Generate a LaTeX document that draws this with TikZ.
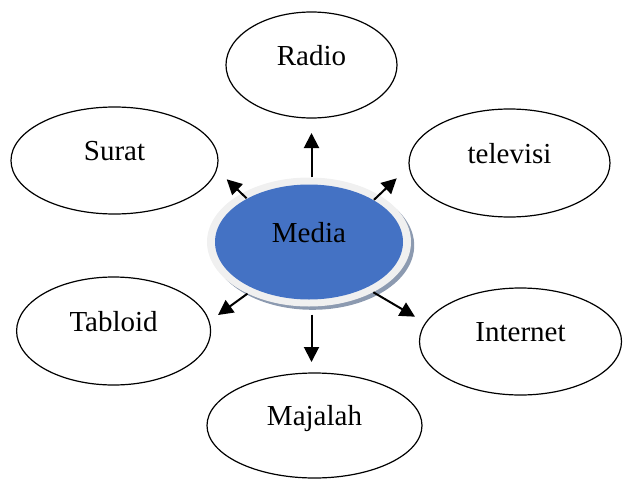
\documentclass[tikz,border=0pt]{standalone}
\usepackage{fontspec}
\setmainfont{Liberation Serif}
\usetikzlibrary{shapes.geometric,arrows.meta}
\definecolor{mediablue}{HTML}{4472C4}
\definecolor{ringgrey}{HTML}{F0F0F0}
\definecolor{shadowgrey}{HTML}{8C9AB0}

\begin{document}
\begin{tikzpicture}[x=1pt,y=-1pt,
		bubble/.style={ellipse,draw=black,line width=1.2pt,inner sep=0pt,text height=10pt,text depth=10pt,font=\fontsize{29}{32}\selectfont},
		hub/.style={bubble,draw=none,fill=mediablue,minimum width=188pt,minimum height=115pt},
		ring/.style={ellipse,fill=ringgrey,inner sep=0pt,minimum width=204pt,minimum height=129pt},
		arr/.style={-{Triangle[length=15pt,width=15pt]},line width=2pt}]
		\useasboundingbox (0,0) rectangle (623,479);

		% centre with ring and shadow
		\fill[shadowgrey] (312.5,245.5) ellipse (101.7pt and 64.3pt);
		\node[ring] (mediaring) at (309,242) {};
		\node[hub] (media) at (309,242) {Media};

		\node[bubble,minimum width=171pt,minimum height=106pt] (radio) at (311.5,65) {Radio};
		\node[bubble,minimum width=207pt,minimum height=107pt] (surat) at (114.5,160.5) {Surat};
		\node[bubble,minimum width=201pt,minimum height=108pt] (televisi) at (509.5,163) {televisi};
		\node[bubble,minimum width=194pt,minimum height=108pt] (tabloid) at (113.6,331) {Tabloid};
		\node[bubble,minimum width=202pt,minimum height=107pt] (internet) at (520.5,341.5) {Internet};
		\node[bubble,minimum width=215pt,minimum height=105pt] (majalah) at (314.5,425.5) {Majalah};

		% arrow tips
		\coordinate (toradio) at (311.5,133);
		\coordinate (tosurat) at (226.7,179.3);
		\coordinate (totelevisi) at (396.7,178.3);
		\coordinate (totabloid) at (218,315);
		\coordinate (tointernet) at (415,316.7);
		\coordinate (tomajalah) at (311.5,362);

		\draw[arr] (mediaring.north -| toradio) -- (toradio);
		\draw[arr] (media.145) -- (tosurat);
		\draw[arr] (media.33) -- (totelevisi);
		\draw[arr] (mediaring.220) -- (totabloid);
		\draw[arr] (mediaring.322) -- (tointernet);
		\draw[arr,shorten <=8pt] (mediaring.south -| tomajalah) -- (tomajalah);
	\end{tikzpicture}
\end{document}
